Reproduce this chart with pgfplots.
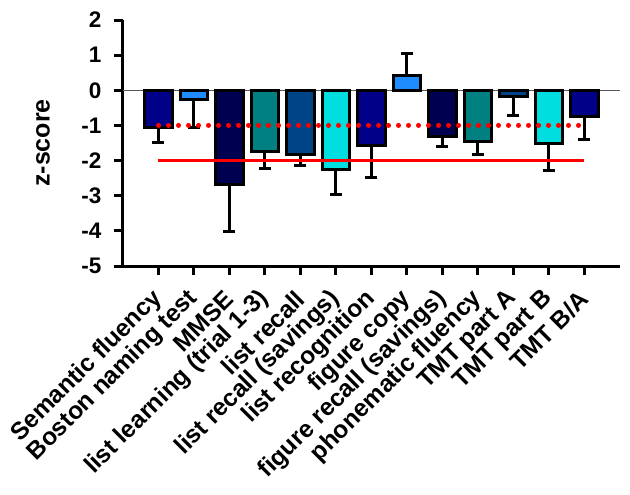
\documentclass[border=0pt]{standalone}
\usepackage{fontspec}
\setmainfont{Liberation Sans}
\usepackage{pgfplots}
\pgfplotsset{compat=1.18}
\definecolor{c1}{RGB}{0,0,136}
\definecolor{c2}{RGB}{30,140,255}
\definecolor{c3}{RGB}{0,0,80}
\definecolor{c4}{RGB}{0,128,128}
\definecolor{c5}{RGB}{0,68,136}
\definecolor{c6}{RGB}{0,222,224}
\pgfplotsset{
  mybar/.style 2 args={ybar, bar width=0.78, bar shift=0pt, draw=black, line width=3pt, fill=#1,
    error bars/.cd, y dir=#2, y explicit, error bar style={line width=3pt, black},
    error mark options={rotate=90, mark size=6pt, line width=3pt, black}},
}
\begin{document}
\begin{tikzpicture}
\path[use as bounding box] (-123pt,-229pt) rectangle (507pt,266pt);
\begin{axis}[
  scale only axis, width=497pt, height=246pt,
  xmin=-1, xmax=13, ymin=-5, ymax=2,
  axis x line=bottom, axis y line=left,
  axis line style={line width=3pt, -},
  tick style={line width=3pt, black},
  major tick length=9pt, tick align=outside,
  ytick={-5,-4,-3,-2,-1,0,1,2},
  xtick={0,1,2,3,4,5,6,7,8,9,10,11,12},
  xticklabels={Semantic fluency, Boston naming test, MMSE, list learning (trial 1-3), list recall, list recall (savings), list recognition, figure copy, figure recall (savings), phonematic fluency, TMT part A, TMT part B, TMT B/A},
  /pgf/number format/assume math mode=true,
  ticklabel style={font=\fontsize{22.5}{26}\selectfont\bfseries},
  xticklabel style={rotate=45, anchor=east, inner sep=0pt, font=\fontsize{24.5}{28}\selectfont\bfseries},
  xticklabel shift=20pt,
  yticklabel shift=9pt,
  ylabel={z-score},
  every axis y label/.style={at={(axis description cs:-0.161,0.5)}, rotate=90, anchor=center, font=\fontsize{25}{29}\selectfont\bfseries},
  clip=false,
]
\addplot[gray!70!black, line width=1pt, forget plot] coordinates {(-1,0) (13,0)};
\addplot[mybar={c1}{minus}] coordinates {(0,-1.07) +- (0,0.41)};
\addplot[mybar={c2}{minus}] coordinates {(1,-0.26) +- (0,0.80)};
\addplot[mybar={c3}{minus}] coordinates {(2,-2.67) +- (0,1.34)};
\addplot[mybar={c4}{minus}] coordinates {(3,-1.75) +- (0,0.47)};
\addplot[mybar={c5}{minus}] coordinates {(4,-1.84) +- (0,0.29)};
\addplot[mybar={c6}{minus}] coordinates {(5,-2.24) +- (0,0.73)};
\addplot[mybar={c1}{minus}] coordinates {(6,-1.58) +- (0,0.91)};
\addplot[mybar={c2}{plus}] coordinates {(7,0.41) +- (0,0.64)};
\addplot[mybar={c3}{minus}] coordinates {(8,-1.31) +- (0,0.29)};
\addplot[mybar={c4}{minus}] coordinates {(9,-1.46) +- (0,0.37)};
\addplot[mybar={c5}{minus}] coordinates {(10,-0.18) +- (0,0.54)};
\addplot[mybar={c6}{minus}] coordinates {(11,-1.50) +- (0,0.79)};
\addplot[mybar={c1}{minus}] coordinates {(12,-0.74) +- (0,0.65)};
\addplot[red, line width=3pt, mark=none] coordinates {(0,-2) (12,-2)};
\addplot[red, line width=5pt, line cap=round, dash pattern=on 0pt off 10pt, mark=none] coordinates {(0,-1) (12,-1)};
\end{axis}
\end{tikzpicture}
\end{document}
